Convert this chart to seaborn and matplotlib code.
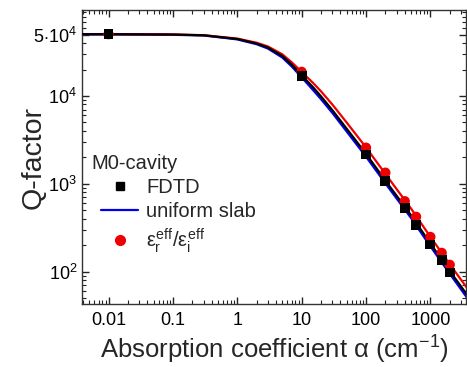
import matplotlib
matplotlib.use('Agg')

import numpy as np
import pandas as pd
import matplotlib.pyplot as plt
from matplotlib.lines import Line2D
from matplotlib.ticker import FixedLocator, FixedFormatter, LogLocator, NullFormatter
import seaborn as sns

# absorption coefficient (cm^-1) for the smooth curves
alpha_line = [0.004, 0.01, 0.1, 0.3, 1, 2, 3, 5, 7, 10, 15, 20, 30, 50,
              100, 200, 300, 500, 1000, 2000, 3000, 4000]
q_black = [50500, 50500, 50000, 49000, 44500, 39500, 35500, 28500, 22800, 17200, 12600, 9900, 6900, 4250,
           2200, 1090, 730, 440, 210, 102, 68, 51]
q_slab = [50000, 50000, 49600, 48800, 44000, 38800, 34600, 27400, 21700, 16300, 11700, 9200, 6420, 3950,
          2040, 1015, 680, 410, 195, 95, 63, 47]
q_eps = [50500, 50500, 50000, 49150, 44950, 40300, 36550, 29800, 24200, 18800, 14100, 11300, 8000, 5000,
         2600, 1300, 870, 525, 250, 122, 81, 61]

# simulated points
alpha_pts = [0.01, 10, 100, 200, 400, 600, 1000, 1500, 2000]
q_fdtd = [50500, 16900, 2160, 1075, 534, 344, 204, 135, 98]
q_eps_pts = [50500, 18800, 2580, 1340, 635, 422, 249, 164, 120]

y_ticks = [1e2, 1e3, 1e4, 5e4]
y_tick_labels = ['10$^2$', '10$^3$', '10$^4$', '5$\\cdot$10$^4$']
x_ticks = [0.01, 0.1, 1, 10, 100, 1000]
x_tick_labels = ['0.01', '0.1', '1', '10', '100', '1000']

sns.set_style('ticks')
plt.rcParams['font.family'] = ['Liberation Sans', 'DejaVu Sans']
plt.rcParams['mathtext.fontset'] = 'custom'
plt.rcParams['mathtext.rm'] = 'Liberation Sans'
plt.rcParams['mathtext.it'] = 'Liberation Sans'
plt.rcParams['mathtext.cal'] = 'Liberation Sans'

lines_df = pd.DataFrame({'alpha': alpha_line, 'black': q_black, 'slab': q_slab, 'eps': q_eps})
pts_df = pd.DataFrame({'alpha': alpha_pts, 'fdtd': q_fdtd, 'eps': q_eps_pts})

fig = plt.figure(figsize=(4.67, 3.67), dpi=100)
ax = fig.add_axes([0.1756, 0.1717, 0.822, 0.801])

sns.lineplot(data=lines_df, x='alpha', y='slab', color='#0000ee', linewidth=1.6, ax=ax, zorder=2)
sns.lineplot(data=lines_df, x='alpha', y='eps', color='#ee0000', linewidth=1.6, ax=ax, zorder=2)
sns.lineplot(data=lines_df, x='alpha', y='black', color='black', linewidth=1.6, ax=ax, zorder=3)
sns.scatterplot(data=pts_df, x='alpha', y='eps', color='#ee0000', marker='o', s=55,
                edgecolor='none', ax=ax, zorder=4)
sns.scatterplot(data=pts_df, x='alpha', y='fdtd', color='black', marker='s', s=50,
                edgecolor='none', ax=ax, zorder=5)

ax.set_xscale('log')
ax.set_yscale('log')
ax.set_xlim(0.00387, 3565)
ax.set_ylim(43, 95000)

ax.xaxis.set_major_locator(FixedLocator(x_ticks))
ax.xaxis.set_major_formatter(FixedFormatter(x_tick_labels))
ax.xaxis.set_minor_locator(LogLocator(base=10, subs=np.arange(2, 10)))
ax.xaxis.set_minor_formatter(NullFormatter())
ax.yaxis.set_major_locator(FixedLocator(y_ticks))
ax.yaxis.set_major_formatter(FixedFormatter(y_tick_labels))
ax.yaxis.set_minor_locator(LogLocator(base=10, subs=np.arange(2, 10)))
ax.yaxis.set_minor_formatter(NullFormatter())

ax.tick_params(which='both', direction='in', top=True, right=True, colors='#222222',
               labelcolor='black', labelsize=13)
ax.tick_params(which='major', length=5, width=1)
ax.tick_params(which='minor', length=3, width=0.8)
ax.tick_params(axis='x', which='major', pad=6)
for sp in ax.spines.values():
    sp.set_color('#333333')
    sp.set_linewidth(1.0)

ax.set_xlabel('Absorption coefficient $\\alpha$ (cm$^{-1}$)', fontsize=18.5, labelpad=3)
ax.set_ylabel('Q-factor', fontsize=20.5)
ax.yaxis.set_label_coords(-0.093, 0.5)

handles = [
    Line2D([], [], color='black', marker='s', linestyle='none', markersize=6),
    Line2D([], [], color='#0000ee', linewidth=1.6),
    Line2D([], [], color='#ee0000', marker='o', linestyle='none', markersize=7),
]
labels = ['FDTD', 'uniform slab', '$\\varepsilon_r^{eff}/\\varepsilon_i^{eff}$']
leg = ax.legend(handles, labels, title='M0-cavity', loc='lower left', bbox_to_anchor=(0.018, 0.125),
                frameon=False, fontsize=14.5, title_fontsize=14.5, alignment='left',
                handlelength=1.85, handletextpad=0.4, labelspacing=0.25, borderaxespad=0.2)
leg.get_title().set_position((-10, 0))

fig.savefig('out.png', dpi=100)
